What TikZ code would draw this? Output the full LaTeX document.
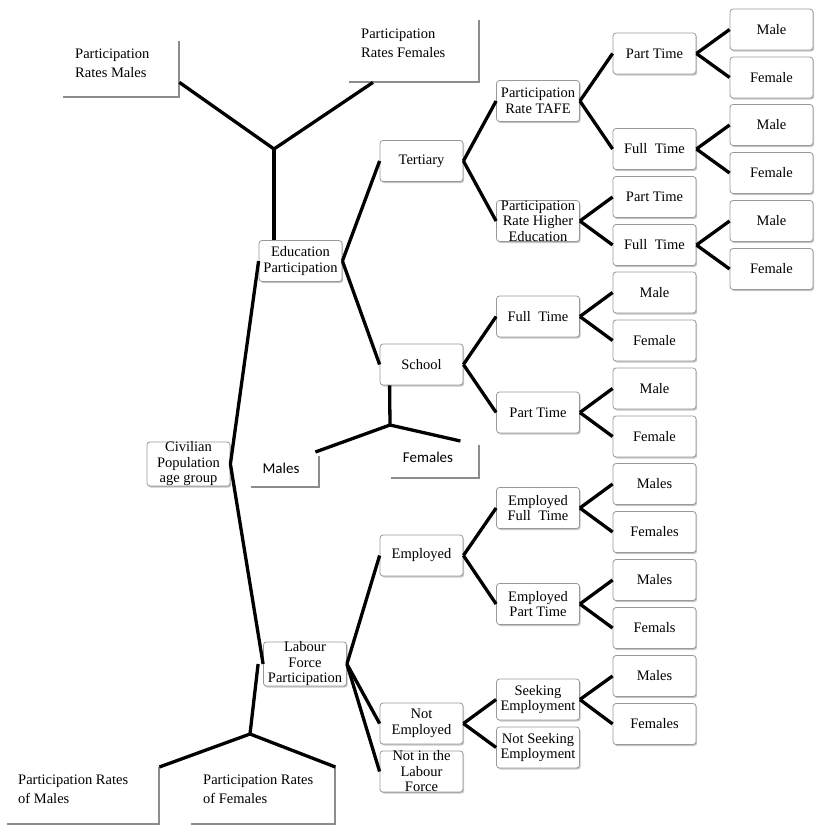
\documentclass[tikz,border=0pt]{standalone}
\usepackage{fontspec}
\setmainfont{Liberation Serif}
\newfontfamily\calfont{Carlito}
\usetikzlibrary{shadows,calc}
\begin{document}
\begin{tikzpicture}[x=1pt,y=-1pt,
  box/.style={draw=black!40, line width=0.8pt, rounded corners=3pt, fill=white,
    minimum width=83pt, minimum height=41pt, inner sep=0pt, align=center,
    font=\fontsize{14.5}{15.5}\selectfont,
    drop shadow={shadow xshift=1.2pt, shadow yshift=-1.5pt, fill=black!45, opacity=0.5}},
  link/.style={line width=3.3pt, black},
  calloutbox/.style={inner sep=0pt, anchor=north west},
  callouttext/.style={inner sep=0pt, anchor=north west, align=left,
    font=\fontsize{14.5}{19}\selectfont},
  sanstext/.style={inner sep=0pt, font=\calfont\fontsize{15}{18}\selectfont},
  cedge/.style={draw=black!45, line width=2pt}]
\useasboundingbox (0,0) rectangle (827,835);

% ---- callout boxes (gray right and bottom edges) ----
\node[calloutbox, minimum width=116pt, minimum height=56pt] (pm) at (63,41) {};
\node[callouttext] (pmt) at (75,49) {Participation\\Rates Males};
\node[calloutbox, minimum width=130pt, minimum height=62pt] (pf) at (349,20) {};
\node[callouttext] (pft) at (361,29) {Participation\\Rates Females};
\node[calloutbox, minimum width=68pt, minimum height=31pt] (mc) at (251,456) {};
\node[sanstext] (mct) at (281,468) {Males};
\node[calloutbox, minimum width=88pt, minimum height=33pt] (fc) at (391,445) {};
\node[sanstext] (fct) at (428,457) {Females};
\node[calloutbox, minimum width=152pt, minimum height=57pt] (prm) at (7,767) {};
\node[callouttext] (prmt) at (18,775) {Participation Rates\\of Males};
\node[calloutbox, minimum width=144pt, minimum height=57pt] (prf) at (191,767) {};
\node[callouttext] (prft) at (203,775) {Participation Rates\\of Females};
\foreach \c in {pm,pf,mc,fc,prm,prf}
  \draw[cedge] (\c.north east) -- (\c.south east) -- (\c.south west);

% ---- tree nodes ----
\node[box] (civ) at (188.5,464) {Civilian\\Population\\age group};
\node[box] (edu) at (300.5,261) {Education\\Participation};
\node[box] (lab) at (305,664) {Labour\\Force\\Participation};

\node[box] (ter) at (421.5,161) {Tertiary};
\node[box] (sch) at (421.5,364.5) {School};
\node[box] (emp) at (421.5,555.5) {Employed};
\node[box] (nemp) at (421.5,723.5) {Not\\Employed};
\node[box] (nilf) at (421.5,771.5) {Not in the\\Labour\\Force};

\node[box] (tafe) at (538,101) {Participation\\Rate TAFE};
\node[box] (he) at (538,221) {Participation\\Rate Higher\\Education};
\node[box] (sft) at (538,316.5) {Full~~Time};
\node[box] (spt) at (538,412.5) {Part Time};
\node[box] (eft) at (538,508) {Employed\\Full~~Time};
\node[box] (ept) at (538,604) {Employed\\Part Time};
\node[box] (seek) at (538,699.5) {Seeking\\Employment};
\node[box] (nseek) at (538,747.5) {Not Seeking\\Employment};

\node[box] (tpt) at (654.5,53.5) {Part Time};
\node[box] (tft) at (654.5,149) {Full~~Time};
\node[box] (hpt) at (654.5,197) {Part Time};
\node[box] (hft) at (654.5,245) {Full~~Time};

\node[box] (m1) at (771.5,29.5) {Male};
\node[box] (f1) at (771.5,77.5) {Female};
\node[box] (m2) at (771.5,125) {Male};
\node[box] (f2) at (771.5,173) {Female};
\node[box] (m3) at (771.5,221) {Male};
\node[box] (f3) at (771.5,269) {Female};

\node[box] (m4) at (654.5,292.5) {Male};
\node[box] (f4) at (654.5,340.5) {Female};
\node[box] (m5) at (654.5,388.5) {Male};
\node[box] (f5) at (654.5,436.5) {Female};
\node[box] (m6) at (654.5,484) {Males};
\node[box] (f6) at (654.5,532) {Females};
\node[box] (m7) at (654.5,580) {Males};
\node[box] (f7) at (654.5,628) {Femals};
\node[box] (m8) at (654.5,676) {Males};
\node[box] (f8) at (654.5,724) {Females};

% ---- connectors ----
\draw[link] (civ.east) -- (edu.west);
\draw[link] (civ.east) -- (lab.west);
\draw[link] (edu.east) -- (ter.west);
\draw[link] (edu.east) -- (sch.west);
\draw[link] (lab.east) -- (emp.west);
\draw[link] (lab.east) -- (nemp.west);
\draw[link] (lab.east) -- (nilf.west);
\draw[link] (ter.east) -- (tafe.west);
\draw[link] (ter.east) -- (he.west);
\draw[link] (tafe.east) -- (tpt.west);
\draw[link] (tafe.east) -- (tft.west);
\draw[link] (he.east) -- (hpt.west);
\draw[link] (he.east) -- (hft.west);
\draw[link] (tpt.east) -- (m1.west);
\draw[link] (tpt.east) -- (f1.west);
\draw[link] (tft.east) -- (m2.west);
\draw[link] (tft.east) -- (f2.west);
\draw[link] (hft.east) -- (m3.west);
\draw[link] (hft.east) -- (f3.west);
\draw[link] (sch.east) -- (sft.west);
\draw[link] (sch.east) -- (spt.west);
\draw[link] (sft.east) -- (m4.west);
\draw[link] (sft.east) -- (f4.west);
\draw[link] (spt.east) -- (m5.west);
\draw[link] (spt.east) -- (f5.west);
\draw[link] (emp.east) -- (eft.west);
\draw[link] (emp.east) -- (ept.west);
\draw[link] (eft.east) -- (m6.west);
\draw[link] (eft.east) -- (f6.west);
\draw[link] (ept.east) -- (m7.west);
\draw[link] (ept.east) -- (f7.west);
\draw[link] (nemp.east) -- (seek.west);
\draw[link] (nemp.east) -- (nseek.west);
\draw[link] (seek.east) -- (m8.west);
\draw[link] (seek.east) -- (f8.west);

% Y-shaped connectors to callouts
\coordinate (jtop) at (274,149);
\draw[link] ([yshift=15pt]pm.south east) -- (jtop) -- ([xshift=24pt]pf.south west);
\draw[link] (jtop) -- (jtop |- edu.north);
\coordinate (jsch) at (390,425);
\draw[link] ([xshift=10pt]sch.south west) -- (jsch);
\draw[link] ([xshift=-4pt,yshift=4pt]mc.north east) -- (jsch) -- ([xshift=-19pt,yshift=4pt]fc.north east);
\coordinate (jlab) at (250,734);
\draw[link] ([xshift=-5pt]lab.west) -- (jlab);
\draw[link] (prm.north east) -- (jlab) -- (prf.north east);
\end{tikzpicture}
\end{document}
